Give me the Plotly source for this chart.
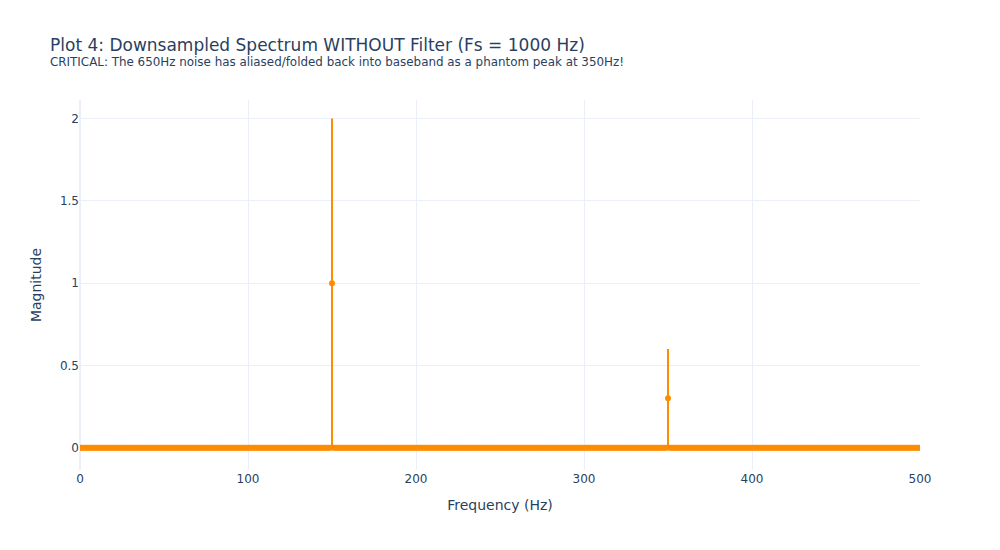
import numpy as np
from plotly import graph_objects as go

# frequency bins of the downsampled spectrum (1 Hz resolution, 0..500 Hz)
freqs = np.arange(0, 501, 1)
peak_freqs = [150, 350]
peak_mags = [1.0, 0.3]

mags = np.zeros(len(freqs))
for f, m in zip(peak_freqs, peak_mags):
    mags[freqs == f] = m

fig = go.Figure(go.Scatter(
    x=freqs, y=mags, mode="markers",
    marker=dict(color="darkorange", size=6),
    error_y=dict(type="data", array=mags, visible=True, color="darkorange", thickness=2, width=0),
    name="Downsampled",
))

# page body adds 8px, so margins are shifted to put the plot where the reference has it
fig.update_layout(
    template="plotly_white",
    width=1000, height=550,
    margin=dict(l=72, r=88, t=92, b=88),
    font=dict(family="DejaVu Sans, Verdana, sans-serif"),
    title=dict(
        text="Plot 4: Downsampled Spectrum WITHOUT Filter (Fs = 1000 Hz)<br><sup>CRITICAL: The 650Hz noise has "
             "aliased/folded back into baseband as a phantom peak at 350Hz!</sup>",
        x=0.042, xanchor="left", y=0.922, yanchor="middle",
    ),
    xaxis=dict(title="Frequency (Hz)", range=[0, 500]),
    yaxis=dict(title="Magnitude"),
)

fig.write_html("out.html")
